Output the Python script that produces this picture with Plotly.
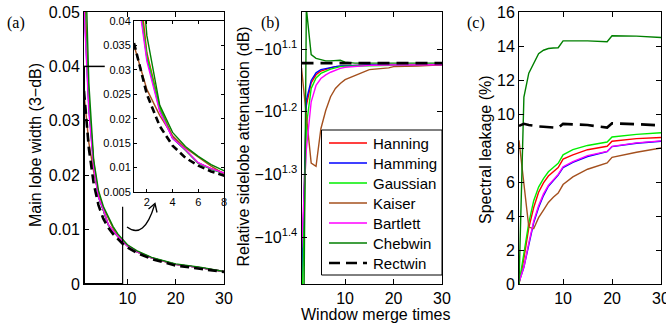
import plotly.graph_objects as go

# ---------------- data ----------------
MERGE = [1, 2, 3, 4, 5, 6, 7, 8, 9, 10, 12, 15, 19, 20, 25, 30]
WINDOWS = ["Hanning", "Hamming", "Gaussian", "Kaiser", "Bartlett", "Chebwin", "Rectwin"]

# (a) main lobe width (3-dB)
WIDTH_HANNING = [0.0575, 0.0335, 0.0225, 0.0163, 0.0136, 0.0109, 0.0098, 0.0088, 0.0079, 0.0071, 0.0060, 0.0048, 0.0038, 0.0036, 0.0030, 0.0023]
WIDTH_HAMMING = [0.0520, 0.0325, 0.0218, 0.0160, 0.0136, 0.0109, 0.0097, 0.0087, 0.0078, 0.0070, 0.0059, 0.0048, 0.0038, 0.0036, 0.0030, 0.0023]
WIDTH_GAUSSIAN = [0.0530, 0.0330, 0.0222, 0.0161, 0.0136, 0.0109, 0.0097, 0.0087, 0.0078, 0.0070, 0.0059, 0.0048, 0.0038, 0.0036, 0.0030, 0.0023]
WIDTH_KAISER = [0.0350, 0.0260, 0.0207, 0.0165, 0.0140, 0.0121, 0.0103, 0.0087, 0.0078, 0.0070, 0.0059, 0.0048, 0.0038, 0.0036, 0.0030, 0.0023]
WIDTH_BARTLETT = [0.0510, 0.0318, 0.0215, 0.0160, 0.0137, 0.0110, 0.0098, 0.0087, 0.0078, 0.0070, 0.0059, 0.0048, 0.0038, 0.0036, 0.0030, 0.0023]
WIDTH_CHEBWIN = [0.0680, 0.0370, 0.0228, 0.0172, 0.0143, 0.0123, 0.0106, 0.0092, 0.0081, 0.0072, 0.0061, 0.0049, 0.0039, 0.0037, 0.0031, 0.0023]
WIDTH_RECTWIN = [0.0355, 0.0250, 0.0185, 0.0145, 0.0120, 0.0104, 0.0092, 0.0082, 0.0074, 0.0067, 0.0057, 0.0046, 0.0036, 0.0034, 0.0028, 0.0022]

# (b) relative sidelobe attenuation (dB)
SIDELOBE_HANNING = [-31.5, -15.5, -14.26, -13.84, -13.65, -13.55, -13.49, -13.43, -13.41, -13.40, -13.37, -13.36, -13.35, -13.34, -13.34, -13.34]
SIDELOBE_HAMMING = [-32.4, -15.2, -14.13, -13.74, -13.58, -13.52, -13.46, -13.43, -13.40, -13.38, -13.37, -13.35, -13.34, -13.34, -13.34, -13.34]
SIDELOBE_GAUSSIAN = [-35.5, -16.7, -14.55, -14.00, -13.77, -13.65, -13.55, -13.49, -13.43, -13.41, -13.40, -13.37, -13.35, -13.34, -13.34, -13.34]
SIDELOBE_KAISER = [-13.49, -16.03, -19.14, -19.36, -16.87, -15.78, -15.00, -14.55, -14.29, -14.09, -13.90, -13.58, -13.49, -13.43, -13.40, -13.34]
SIDELOBE_BARTLETT = [-26.1, -18.2, -15.28, -14.39, -14.03, -13.84, -13.71, -13.61, -13.52, -13.46, -13.41, -13.37, -13.35, -13.35, -13.34, -13.34]
SIDELOBE_CHEBWIN = [-100.0, -10.84, -12.85, -13.03, -13.09, -13.15, -13.15, -13.15, -13.12, -13.21, -13.26, -13.26, -13.26, -13.26, -13.26, -13.26]
SIDELOBE_RECTWIN = [-13.26, -13.26, -13.26, -13.26, -13.26, -13.26, -13.26, -13.26, -13.26, -13.26, -13.26, -13.26, -13.26, -13.26, -13.26, -13.26]
SIDELOBE_TICKS = [1.1, 1.2, 1.3, 1.4]          # log10 of |dB|
SIDELOBE_TICK_TEXT = ["\u221210<sup>1.1</sup>", "\u221210<sup>1.2</sup>", "\u221210<sup>1.3</sup>", "\u221210<sup>1.4</sup>"]

# (c) spectral leakage (%)
LEAK_HANNING = [0.0, 1.5, 3.3, 4.5, 5.4, 5.95, 6.35, 6.6, 6.85, 7.35, 7.6, 7.9, 8.1, 8.4, 8.55, 8.62]
LEAK_HAMMING = [0.1, 1.0, 2.3, 3.6, 4.5, 5.2, 5.75, 6.1, 6.4, 6.85, 7.15, 7.5, 7.78, 8.08, 8.28, 8.4]
LEAK_GAUSSIAN = [0.0, 1.8, 3.6, 4.9, 5.7, 6.2, 6.6, 6.85, 7.1, 7.6, 7.9, 8.15, 8.35, 8.65, 8.8, 8.9]
LEAK_KAISER = [8.45, 5.9, 3.35, 3.25, 3.9, 4.35, 4.8, 5.1, 5.35, 5.85, 6.3, 6.75, 7.12, 7.45, 7.75, 8.0]
LEAK_BARTLETT = [0.1, 1.0, 2.4, 3.7, 4.6, 5.3, 5.8, 6.15, 6.45, 6.9, 7.2, 7.55, 7.8, 8.1, 8.3, 8.42]
LEAK_CHEBWIN = [0.0, 11.0, 12.4, 13.0, 13.55, 13.75, 13.85, 13.88, 13.9, 14.3, 14.3, 14.3, 14.25, 14.6, 14.58, 14.5]
LEAK_RECTWIN = [9.3, 9.42, 9.35, 9.3, 9.27, 9.25, 9.22, 9.2, 9.18, 9.42, 9.4, 9.35, 9.2, 9.45, 9.4, 9.33]

ZOOM_BOX_X = [1, 9]
ZOOM_BOX_Y = [0, 0.04]

# ---------------- styling ----------------
W, H = 666, 325
def px(x):
    return x / W
def py(y):
    return 1 - y / H

COLORS = {"Hanning": "#ff0000", "Hamming": "#0000ff", "Gaussian": "#00ee00",
          "Kaiser": "#a4501e", "Bartlett": "#ff00ff", "Chebwin": "#008000",
          "Rectwin": "#000000"}

width_data = dict(zip(WINDOWS, [WIDTH_HANNING, WIDTH_HAMMING, WIDTH_GAUSSIAN, WIDTH_KAISER,
                                WIDTH_BARTLETT, WIDTH_CHEBWIN, WIDTH_RECTWIN]))
side_data = dict(zip(WINDOWS, [SIDELOBE_HANNING, SIDELOBE_HAMMING, SIDELOBE_GAUSSIAN, SIDELOBE_KAISER,
                               SIDELOBE_BARTLETT, SIDELOBE_CHEBWIN, SIDELOBE_RECTWIN]))
leak_data = dict(zip(WINDOWS, [LEAK_HANNING, LEAK_HAMMING, LEAK_GAUSSIAN, LEAK_KAISER,
                               LEAK_BARTLETT, LEAK_CHEBWIN, LEAK_RECTWIN]))

def line_style(name, dash_len="9px,5px"):
    if name == "Rectwin":
        return dict(color="black", width=2.6, dash=dash_len)
    return dict(color=COLORS[name], width=1.4)

fig = go.Figure()
for name in WINDOWS:
    fig.add_trace(go.Scatter(x=MERGE, y=width_data[name], mode="lines", name=name,
                             line=line_style(name), showlegend=False, xaxis="x", yaxis="y"))
for name in WINDOWS:
    fig.add_trace(go.Scatter(x=MERGE, y=width_data[name], mode="lines", name=name,
                             line=line_style(name, "7px,4px"), showlegend=False, xaxis="x4", yaxis="y4"))
for name in WINDOWS:
    fig.add_trace(go.Scatter(x=MERGE, y=[-v for v in side_data[name]], mode="lines", name=name,
                             line=line_style(name, "12px,7px"), showlegend=False, xaxis="x2", yaxis="y2"))
for name in WINDOWS:
    fig.add_trace(go.Scatter(x=MERGE, y=leak_data[name], mode="lines", name=name,
                             line=line_style(name, "14px,7px"), showlegend=False, xaxis="x3", yaxis="y3"))

FONT = "Liberation Sans, Arial, sans-serif"
def ax(domain, anchor, **kw):
    d = dict(domain=domain, anchor=anchor, showline=True, linecolor="black", linewidth=1,
             mirror="ticks", ticks="inside", ticklen=5, tickcolor="black", tickwidth=1,
             showgrid=False, zeroline=False, automargin=False, ticklabeloverflow="allow",
             tickfont=dict(family=FONT, size=16, color="black"))
    d.update(kw)
    return d

YDOM = [py(284), py(12)]
X_TICKS = [10, 20, 30]
fig.update_layout(
    width=W, height=H, autosize=False, template="none",
    margin=dict(l=0, r=0, t=0, b=0),
    paper_bgcolor="white", plot_bgcolor="white",
    xaxis=ax([px(84), px(224)], "y", range=[1, 30], tickvals=X_TICKS),
    yaxis=ax(YDOM, "x", range=[0, 0.05], mirror=True,
             tickvals=[0, 0.01, 0.02, 0.03, 0.04, 0.05],
             ticktext=["0", "0.01", "0.02", "0.03", "0.04", "0.05"]),
    xaxis2=ax([px(301.5), px(442)], "y2", range=[1, 30], tickvals=X_TICKS),
    yaxis2=ax(YDOM, "x2", type="log", range=[1.4746, 1.041],
              tickvals=[10 ** t for t in SIDELOBE_TICKS], ticktext=SIDELOBE_TICK_TEXT),
    xaxis3=ax([px(519), px(661)], "y3", range=[1, 30], tickvals=X_TICKS),
    yaxis3=ax(YDOM, "x3", range=[0, 16], tickvals=list(range(0, 17, 2))),
    xaxis4=ax([px(134), px(224)], "y4", range=[1, 8], tickvals=[2, 4, 6, 8], ticklen=3,
              tickfont=dict(family=FONT, size=11, color="black")),
    yaxis4=ax([py(192), py(21)], "x4", range=[0.005, 0.04], ticklen=3,
              tickvals=[0.005, 0.01, 0.015, 0.02, 0.025, 0.03, 0.035, 0.04],
              ticktext=["0.005", "0.01", "0.015", "0.02", "0.025", "0.03", "0.035", "0.04"],
              tickfont=dict(family=FONT, size=11, color="black")),
    showlegend=False,
)

ann = [
    dict(text="Main lobe width (3\u2212dB)", x=px(35), y=py(145), textangle=-90),
    dict(text="Relative sidelobe attenuation (dB)", x=px(242.5), y=py(147), textangle=-90),
    dict(text="Spectral leakage (%)", x=px(485), y=py(150), textangle=-90),
    dict(text="Window merge times", x=px(375.7), y=py(314)),
]
for a in ann:
    fig.add_annotation(xref="paper", yref="paper", showarrow=False, xanchor="center", yanchor="middle",
                       font=dict(family=FONT, size=16, color="black"), **a)
for lab, xx in [("(a)", 16), ("(b)", 270.5), ("(c)", 476.5)]:
    fig.add_annotation(xref="paper", yref="paper", showarrow=False, xanchor="center", yanchor="middle",
                       text=lab, x=px(xx), y=py(23),
                       font=dict(family="Liberation Serif, Times New Roman, serif", size=16, color="black"))

# legend (drawn as a boxed key inside panel b)
LEG_BOX = (321.5, 130, 442, 275)
fig.add_shape(type="rect", xref="paper", yref="paper",
              x0=px(LEG_BOX[0]), x1=px(LEG_BOX[2]), y0=py(LEG_BOX[3]), y1=py(LEG_BOX[1]),
              line=dict(color="black", width=1), fillcolor="white", layer="above")
for i, name in enumerate(WINDOWS):
    yy = 143 + 20 * i
    st = line_style(name, "11px,6px")
    if name != "Rectwin":
        st["width"] = 1.6
    fig.add_shape(type="line", xref="paper", yref="paper", x0=px(329), x1=px(367),
                  y0=py(yy), y1=py(yy), line=st, layer="above")
    fig.add_annotation(xref="paper", yref="paper", showarrow=False, xanchor="left", yanchor="middle",
                       text=name, x=px(371), y=py(yy + 0.5),
                       font=dict(family=FONT, size=15, color="black"))

# zoom box (partially hidden behind the inset)
box_top_visible_x = 5.3
box_right_visible_y = 0.0142
fig.add_shape(type="line", xref="x", yref="y", x0=ZOOM_BOX_X[0], x1=ZOOM_BOX_X[0],
              y0=ZOOM_BOX_Y[0], y1=ZOOM_BOX_Y[1], line=dict(color="black", width=2))
fig.add_shape(type="line", xref="x", yref="y", x0=ZOOM_BOX_X[0], x1=box_top_visible_x,
              y0=ZOOM_BOX_Y[1], y1=ZOOM_BOX_Y[1], line=dict(color="black", width=1.5))
fig.add_shape(type="line", xref="x", yref="y", x0=ZOOM_BOX_X[1], x1=ZOOM_BOX_X[1],
              y0=ZOOM_BOX_Y[0], y1=box_right_visible_y, line=dict(color="black", width=1.2))
fig.add_shape(type="line", xref="x", yref="y", x0=ZOOM_BOX_X[0], x1=ZOOM_BOX_X[1],
              y0=ZOOM_BOX_Y[0], y1=ZOOM_BOX_Y[0], line=dict(color="black", width=2))

# curved arrow
fig.add_shape(type="path", xref="paper", yref="paper",
              path=f"M {px(127)},{py(227)} Q {px(144)},{py(240)} {px(154.5)},{py(205)}",
              line=dict(color="black", width=1.3))
fig.add_shape(type="path", xref="paper", yref="paper",
              path=f"M {px(148.5)},{py(209)} L {px(155)},{py(203.5)} L {px(157)},{py(212.5)}",
              line=dict(color="black", width=1.3))

fig.write_html("out.html", config={"displayModeBar": False},
               post_script="document.body.style.margin='0px';")
